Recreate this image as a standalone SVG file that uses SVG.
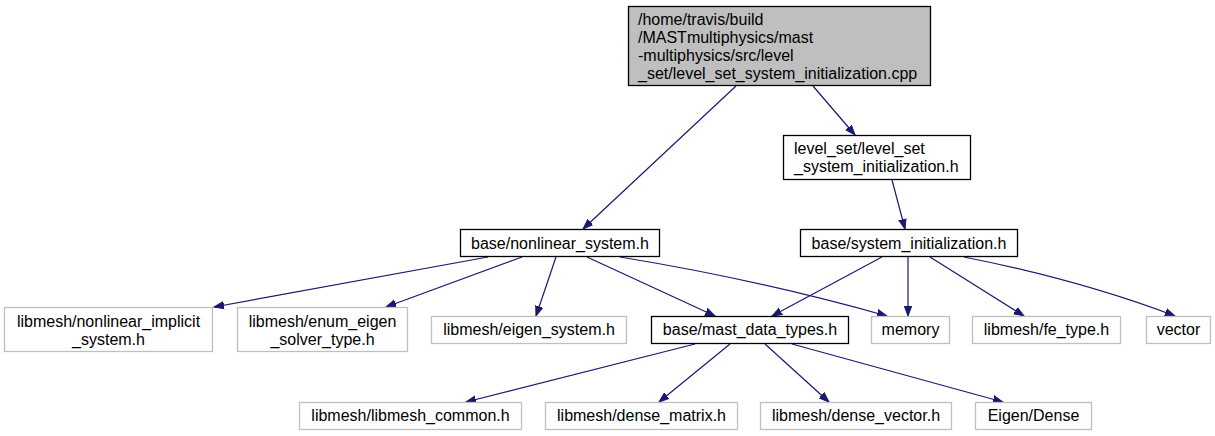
<svg xmlns="http://www.w3.org/2000/svg" width="1215" height="436" viewBox="0 0 1215 436">
<style>
text{font-family:"Liberation Sans",Arial,Helvetica,sans-serif;font-size:16px;fill:#000}
.c{text-anchor:middle}
.b{fill:#fff;stroke:#000;stroke-width:1.3}
.g{fill:#fff;stroke:#bfbfbf;stroke-width:1.3}
.r{fill:#bfbfbf;stroke:#000;stroke-width:1.3}
.e{fill:none;stroke:#191970;stroke-width:1.2;marker-end:url(#ah)}
</style>
<defs>
<marker id="ah" markerUnits="userSpaceOnUse" markerWidth="11" markerHeight="9" refX="10" refY="4" orient="auto" viewBox="0 0 11 8">
<path d="M0,0.3 L10,4 L0,7.7 z" fill="#191970" stroke="#191970" stroke-width="1"/>
</marker>
</defs>
<rect width="1215" height="436" fill="#fff"/>
<g id="edges">
<path class="e" d="M736,86 L583,229"/>
<path class="e" d="M813,86 L855,135"/>
<path class="e" d="M892,180 L905,229"/>
<path class="e" d="M488,257 L214,307"/>
<path class="e" d="M522,257 L386,307"/>
<path class="e" d="M556,257 L536,316"/>
<path class="e" d="M587,257 L715,316"/>
<path class="e" d="M620,257 Q760,280 887,316"/>
<path class="e" d="M882,257 L772,316"/>
<path class="e" d="M908,257 L908,316"/>
<path class="e" d="M930,257 L1024,316"/>
<path class="e" d="M964,257 Q1080,280 1175,316"/>
<path class="e" d="M695,344 L466,402"/>
<path class="e" d="M730,344 L659,402"/>
<path class="e" d="M765,344 L829,402"/>
<path class="e" d="M792,344 L1003,402"/>
</g>
<g id="root">
<rect class="r" x="628.5" y="6.5" width="302" height="79"/>
<text x="638" y="24.75">/home/travis/build</text>
<text x="638" y="42.75">/MASTmultiphysics/mast</text>
<text x="638" y="60.75">-multiphysics/src/level</text>
<text x="638" y="78.75">_set/level_set_system_initialization.cpp</text>
</g>
<g id="level_set_system_initialization_h">
<rect class="b" x="783.5" y="135.5" width="187" height="44"/>
<text x="794" y="154">level_set/level_set</text>
<text x="794" y="172">_system_initialization.h</text>
</g>
<g id="nonlinear_system_h">
<rect class="b" x="460.5" y="229.5" width="199" height="27"/>
<text class="c" x="560" y="248.5">base/nonlinear_system.h</text>
</g>
<g id="system_initialization_h">
<rect class="b" x="800.5" y="229.5" width="217" height="27"/>
<text class="c" x="909" y="248.5">base/system_initialization.h</text>
</g>
<g id="nonlinear_implicit_system_h">
<rect class="g" x="4.5" y="307.5" width="208" height="44"/>
<text class="c" x="108.5" y="326.5">libmesh/nonlinear_implicit</text>
<text class="c" x="108.5" y="344.5">_system.h</text>
</g>
<g id="enum_eigen_solver_type_h">
<rect class="g" x="237.5" y="307.5" width="170" height="44"/>
<text class="c" x="322.5" y="326.5">libmesh/enum_eigen</text>
<text class="c" x="322.5" y="344.5">_solver_type.h</text>
</g>
<g id="eigen_system_h">
<rect class="g" x="431.5" y="316.5" width="195" height="27"/>
<text class="c" x="529" y="335">libmesh/eigen_system.h</text>
</g>
<g id="mast_data_types_h">
<rect class="b" x="651.5" y="316.5" width="197" height="27"/>
<text class="c" x="750" y="335">base/mast_data_types.h</text>
</g>
<g id="memory">
<rect class="g" x="871.5" y="316.5" width="78" height="27"/>
<text class="c" x="910.5" y="335">memory</text>
</g>
<g id="fe_type_h">
<rect class="g" x="972.5" y="316.5" width="148" height="27"/>
<text class="c" x="1046.5" y="335">libmesh/fe_type.h</text>
</g>
<g id="vector">
<rect class="g" x="1146.5" y="316.5" width="64" height="27"/>
<text class="c" x="1178.5" y="335">vector</text>
</g>
<g id="libmesh_common_h">
<rect class="g" x="299.5" y="402.5" width="222" height="27"/>
<text class="c" x="410.5" y="421">libmesh/libmesh_common.h</text>
</g>
<g id="dense_matrix_h">
<rect class="g" x="545.5" y="402.5" width="192" height="27"/>
<text class="c" x="641.5" y="421">libmesh/dense_matrix.h</text>
</g>
<g id="dense_vector_h">
<rect class="g" x="760.5" y="402.5" width="191" height="27"/>
<text class="c" x="856" y="421">libmesh/dense_vector.h</text>
</g>
<g id="eigen_dense">
<rect class="g" x="975.5" y="402.5" width="116" height="27"/>
<text class="c" x="1033.5" y="421">Eigen/Dense</text>
</g>
</svg>
